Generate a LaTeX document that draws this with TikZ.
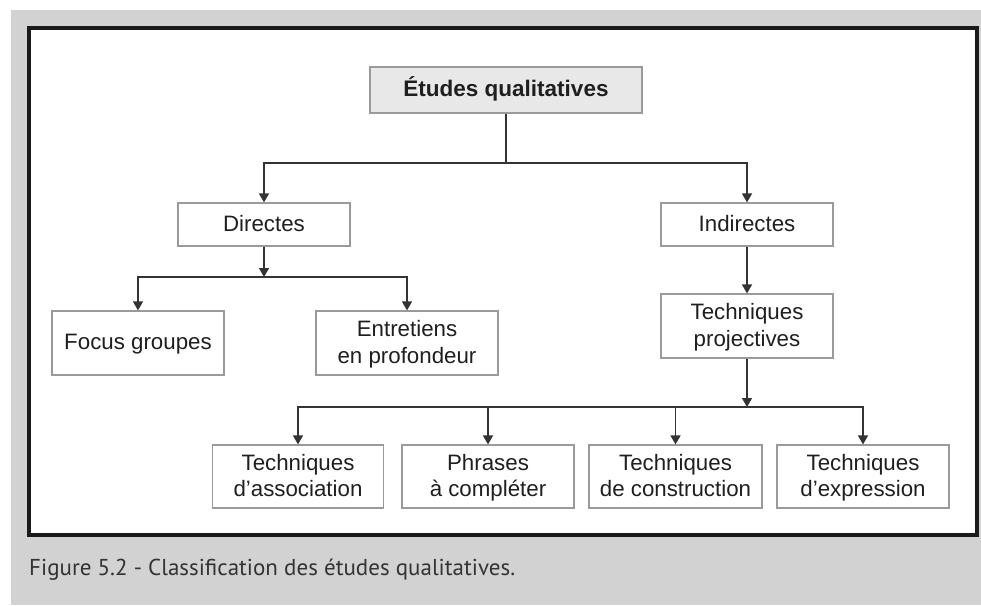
\documentclass[tikz,border=0pt]{standalone}
\usepackage{fontspec}
\setmainfont{Liberation Sans}
\newfontfamily\capfont{PT Sans}
\usetikzlibrary{arrows.meta}
\definecolor{bggray}{HTML}{D2D2D2}
\definecolor{boxline}{HTML}{9A9A9A}
\definecolor{rootfill}{HTML}{E8E8E8}
\definecolor{conn}{HTML}{333333}
\definecolor{framec}{HTML}{1A1A1A}
\newcommand\bst{\rule[-6.5pt]{0pt}{26.5pt}}
\begin{document}
\begin{tikzpicture}[x=1pt,y=-1pt,
  box/.style={draw=boxline,line width=1.2pt,fill=white,inner sep=0pt,align=center,
    font=\fontsize{22.3}{26.5}\selectfont,text=black!88},
  conline/.style={draw=conn,line width=1.5pt},
  arr/.style={conline,-{Triangle[length=9pt,width=10pt]}}]
\useasboundingbox (0,0) rectangle (981,605);
\fill[white] (0,0) rectangle (981,605);
\fill[bggray] (11,10) rectangle (981,605);
\draw[framec,line width=4pt,fill=white] (29,28) rectangle (977,535);
% nodes
\node[box,fill=rootfill,minimum width=272pt,minimum height=46pt,font=\fontsize{22.5}{27}\selectfont\bfseries] (root) at (506,90) {\bst Études qualitatives};
\node[box,minimum width=172pt,minimum height=43pt] (dir) at (264,224.5) {\bst Directes};
\node[box,minimum width=172pt,minimum height=43pt] (ind) at (747,224.5) {\bst Indirectes};
\node[box,minimum width=172pt,minimum height=64pt] (proj) at (747,326) {\bst Techniques\\\bst projectives};
\node[box,minimum width=172pt,minimum height=64pt] (focus) at (138,343) {\bst Focus groupes};
\node[box,minimum width=182pt,minimum height=64pt] (entre) at (407,343) {\bst Entretiens\\\bst en profondeur};
\node[box,minimum width=171pt,minimum height=63pt] (b1) at (298,476.5) {\bst Techniques\\\bst d’association};
\node[box,minimum width=172pt,minimum height=63pt] (b2) at (488,476.5) {\bst Phrases\\\bst à compléter};
\node[box,minimum width=173pt,minimum height=63pt] (b3) at (675.5,476.5) {\bst Techniques\\\bst de construction};
\node[box,minimum width=172pt,minimum height=63pt] (b4) at (863,476.5) {\bst Techniques\\\bst d’expression};
% junctions
\coordinate (j1) at (506,163);
\coordinate (j2) at (264,277);
\coordinate (j3) at (747,407);
% connectors
\draw[conline] (root.south) -- (j1);
\draw[arr] (j1) -| (dir.north);
\draw[arr] (j1) -| (ind.north);
\draw[arr] (dir.south) -- (j2);
\draw[arr] (j2) -| (focus.north);
\draw[arr] (j2) -| (entre.north);
\draw[arr] (ind.south) -- (proj.north);
\draw[arr] (proj.south) -- (j3);
\draw[arr] (j3) -| (b1.north);
\draw[arr] (j3) -| (b2.north);
\draw[arr] (j3) -| (b3.north);
\draw[arr] (j3) -| (b4.north);
% caption
\node[anchor=base west,inner sep=0pt,text=black!80,font=\capfont\fontsize{23}{27}\selectfont] (cap) at (29,575) {Figure 5.2 - Classification des études qualitatives.};
\end{tikzpicture}
\end{document}
